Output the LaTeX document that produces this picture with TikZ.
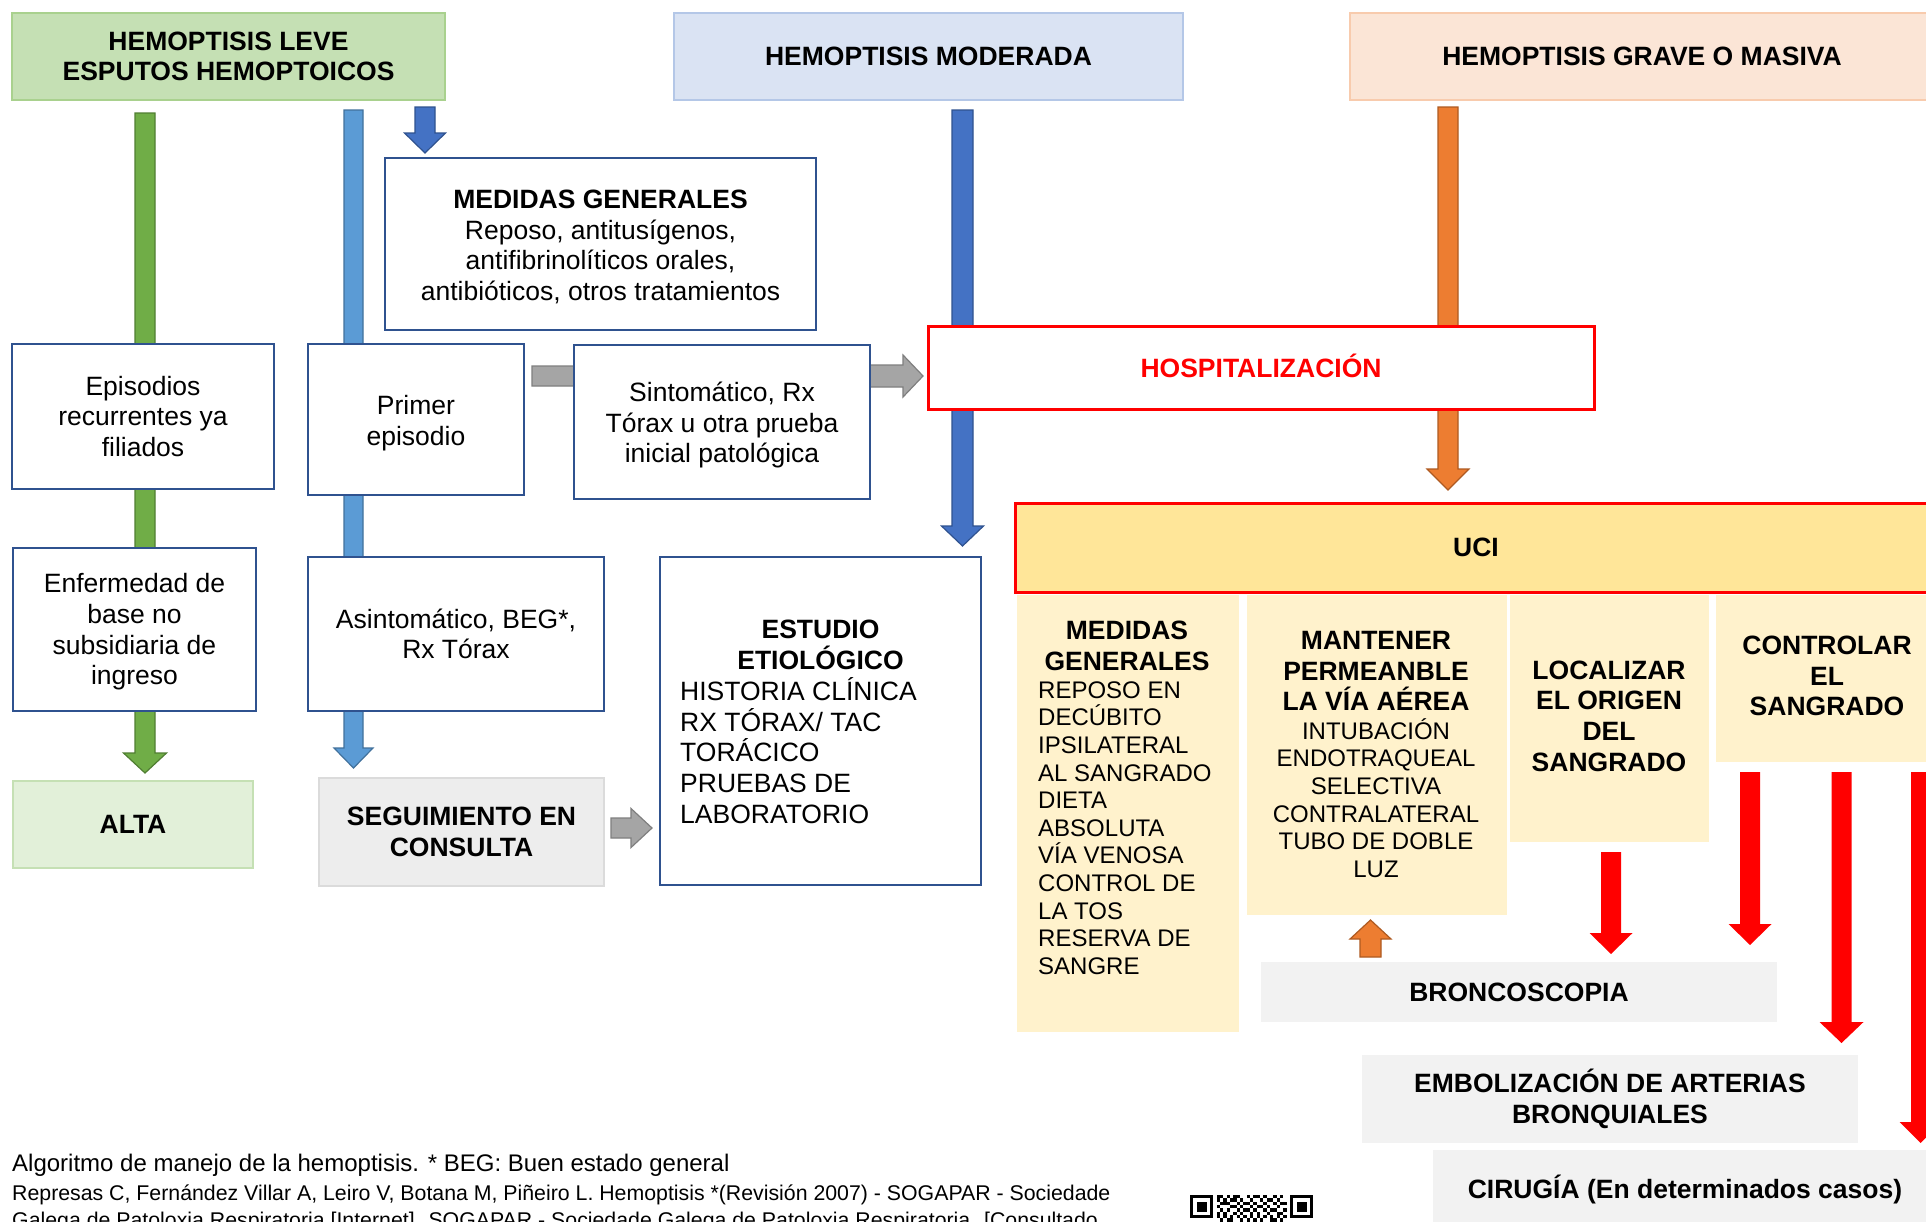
\documentclass[tikz,border=0pt]{standalone}
\usepackage{fontspec}
\setmainfont{Liberation Sans}
\usetikzlibrary{calc}
\definecolor{hgreenf}{HTML}{C5E0B4}\definecolor{hgreend}{HTML}{A9D18E}
\definecolor{hmodf}{HTML}{DAE3F3}\definecolor{hmodd}{HTML}{B4C7E7}
\definecolor{hgravef}{HTML}{FBE5D6}\definecolor{hgraved}{HTML}{F8CBAD}
\definecolor{boxblue}{HTML}{2F528F}
\definecolor{agreenf}{HTML}{70AD47}\definecolor{agreend}{HTML}{507E32}
\definecolor{albluef}{HTML}{5B9BD5}\definecolor{alblued}{HTML}{41719C}
\definecolor{adbluef}{HTML}{4472C4}\definecolor{adblued}{HTML}{2F528F}
\definecolor{aoranf}{HTML}{ED7D31}\definecolor{aorand}{HTML}{AE5A21}
\definecolor{agreyf}{HTML}{A5A5A5}\definecolor{agreyd}{HTML}{7F7F7F}
\definecolor{altaf}{HTML}{E2F0D9}\definecolor{altad}{HTML}{C5E0B4}
\definecolor{seguif}{HTML}{EDEDED}\definecolor{seguid}{HTML}{DBDBDB}
\definecolor{ucif}{HTML}{FFE699}
\definecolor{colf}{HTML}{FFF2CC}
\definecolor{lgrey}{HTML}{F2F2F2}
\definecolor{pured}{HTML}{FF0000}

% block arrows between named coordinates
\newcommand\barrowdown[6]{\path[#6] let \p1=(#1),\p2=(#2) in
 (\x1-#3pt,\y1) -- (\x1+#3pt,\y1) -- (\x1+#3pt,\y2+#5pt) -- (\x1+#4pt,\y2+#5pt) -- (\x1,\y2)
 -- (\x1-#4pt,\y2+#5pt) -- (\x1-#3pt,\y2+#5pt) -- cycle;}
\newcommand\barrowup[6]{\path[#6] let \p1=(#1),\p2=(#2) in
 (\x1-#3pt,\y1) -- (\x1+#3pt,\y1) -- (\x1+#3pt,\y2-#5pt) -- (\x1+#4pt,\y2-#5pt) -- (\x1,\y2)
 -- (\x1-#4pt,\y2-#5pt) -- (\x1-#3pt,\y2-#5pt) -- cycle;}
\newcommand\barrowright[6]{\path[#6] let \p1=(#1),\p2=(#2) in
 (\x1,\y1-#3pt) -- (\x1,\y1+#3pt) -- (\x2-#5pt,\y1+#3pt) -- (\x2-#5pt,\y1+#4pt) -- (\x2,\y1)
 -- (\x2-#5pt,\y1-#4pt) -- (\x2-#5pt,\y1-#3pt) -- cycle;}
% box: name, x1, y1, x2, y2, style, text
\newcommand\bx[7]{\node[#6, minimum width={(#4-#2)*1pt}, minimum height={(#5-#3)*1pt}] (#1) at ({(#2+#4)/2},{(#3+#5)/2}) {#7};}
% box with separately placed text: name, x1, y1, x2, y2, box style, text style, dy, text
\newcommand\bxt[9]{\node[#6, minimum width={(#4-#2)*1pt}, minimum height={(#5-#3)*1pt}] (#1) at ({(#2+#4)/2},{(#3+#5)/2}) {};
 \node[txt, align=center, #7] (#1t) at ($(#1.center)+(0,#8)$) {#9};}

\tikzset{
 fbig/.style={font=\fontsize{26.5}{30.7}\selectfont},
 fbigb/.style={font=\fontsize{26.5}{30.7}\selectfont\bfseries},
 fcol/.style={font=\fontsize{24}{27.6}\selectfont},
 bluebox/.style={draw=boxblue, line width=2.2pt, fill=white, inner sep=0pt, align=center, fbig},
 hdrbox/.style={line width=2.5pt, inner sep=0pt, align=center, fbigb},
 colbox/.style={fill=colf, inner sep=0pt},
 greybox/.style={fill=lgrey, inner sep=0pt, align=center, fbigb},
 txt/.style={inner sep=0pt},
 greenarr/.style={fill=agreenf, draw=agreend, line width=1.2pt},
 lbluearr/.style={fill=albluef, draw=alblued, line width=1.2pt},
 dbluearr/.style={fill=adbluef, draw=adblued, line width=1.2pt},
 oranarr/.style={fill=aoranf, draw=aorand, line width=1.2pt},
 greyarr/.style={fill=agreyf, draw=agreyd, line width=1.2pt},
 redarr/.style={fill=pured},
 qrcell/.style={fill=black}
}

\begin{document}
\begin{tikzpicture}[x=1pt,y=-1pt]
\useasboundingbox (0,0) rectangle (1926,1221);
\clip (0,0) rectangle (1926,1221);
\fill[white] (0,0) rectangle (1926,1221);

% ---------- arrow end points ----------
\coordinate (gA) at (145,113);     \coordinate (gB) at (145,773);
\coordinate (lbA) at (353.5,110);  \coordinate (lbB) at (353.5,768);
\coordinate (sbA) at (425,107);    \coordinate (sbB) at (425,153);
\coordinate (dbA) at (962.5,110);  \coordinate (dbB) at (962.5,546);
\coordinate (orA) at (1448,107);   \coordinate (orB) at (1448,490);
\coordinate (gr1A) at (532,376);   \coordinate (gr1B) at (600,376);
\coordinate (gr2A) at (860,376);   \coordinate (gr2B) at (923,376);
\coordinate (gr3A) at (611,828);   \coordinate (gr3B) at (652,828);
\coordinate (r1A) at (1611,852);   \coordinate (r1B) at (1611,954);
\coordinate (r2A) at (1750,772);   \coordinate (r2B) at (1750,945);
\coordinate (r3A) at (1841.5,772); \coordinate (r3B) at (1841.5,1043);
\coordinate (r4A) at (1920.5,772); \coordinate (r4B) at (1920.5,1143);
\coordinate (oA) at (1370.5,957);  \coordinate (oB) at (1370.5,920);

% ---------- arrows (behind boxes) ----------
\barrowdown{gA}{gB}{10}{21.5}{20}{greenarr}
\barrowdown{lbA}{lbB}{9.5}{19.5}{20}{lbluearr}
\barrowdown{sbA}{sbB}{10}{20.5}{20}{dbluearr}
\barrowdown{dbA}{dbB}{10.5}{21}{20}{dbluearr}
\barrowdown{orA}{orB}{10}{21}{21}{oranarr}
\barrowright{gr1A}{gr1B}{10}{21}{20}{greyarr}
\barrowright{gr2A}{gr2B}{11}{21}{20}{greyarr}
\barrowright{gr3A}{gr3B}{10}{19.5}{21}{greyarr}
\barrowdown{r1A}{r1B}{10}{21.5}{21}{redarr}
\barrowdown{r2A}{r2B}{10}{21.5}{21}{redarr}
\barrowdown{r3A}{r3B}{10}{22}{21}{redarr}
\barrowdown{r4A}{r4B}{9.5}{21}{21}{redarr}
\barrowup{oA}{oB}{10.5}{20.5}{19}{oranarr}

% ---------- headers ----------
\bx{hleve}{12}{13}{445}{100}{hdrbox, fill=hgreenf, draw=hgreend}{HEMOPTISIS LEVE\\ESPUTOS HEMOPTOICOS}
\bx{hmod}{674}{13}{1183}{100}{hdrbox, fill=hmodf, draw=hmodd}{HEMOPTISIS MODERADA}
\bx{hgrave}{1350}{13}{1934}{100}{hdrbox, fill=hgravef, draw=hgraved}{HEMOPTISIS GRAVE O MASIVA}

% ---------- left part ----------
\bxt{medgen}{385}{158}{816}{330}{bluebox}{fbig}{3}{\textbf{MEDIDAS GENERALES}\\Reposo, antitusígenos,\\antifibrinolíticos orales,\\antibióticos, otros tratamientos}
\bx{episod}{12}{344}{274}{489}{bluebox}{Episodios\\recurrentes ya\\filiados}
\bxt{primer}{308}{344}{524}{495}{bluebox}{fbig}{3.5}{Primer\\episodio}
\bxt{sintom}{574}{345}{870}{499}{bluebox}{fbig}{3}{Sintomático, Rx\\Tórax u otra prueba\\inicial patológica}
\bxt{enferm}{13}{548}{256}{711}{bluebox}{fbig}{2.5}{Enfermedad de\\base no\\subsidiaria de\\ingreso}
\bx{asint}{308}{557}{604}{711}{bluebox}{Asintomático, BEG*,\\Rx Tórax}
\bx{estudio}{660}{557}{981}{885}{bluebox}{}
\node[txt, align=center, fbigb] (estudioh) at (820.5,645) {ESTUDIO\\ETIOLÓGICO};
\node[txt, align=left, fbig, anchor=west] (estudiob) at (680,750.5) {HISTORIA CLÍNICA\\RX TÓRAX/ TAC\\TORÁCICO\\PRUEBAS DE\\LABORATORIO};
\bx{alta}{13}{781}{253}{868}{hdrbox, fill=altaf, draw=altad}{ALTA}
\bx{segui}{319}{778}{604}{886}{hdrbox, fill=seguif, draw=seguid}{SEGUIMIENTO EN\\CONSULTA}

% ---------- right part ----------
\bxt{hosp}{928}{326}{1594}{409}{hdrbox, fill=white, draw=pured, line width=3pt}{fbigb, text=pured}{-2}{HOSPITALIZACIÓN}
\bx{uci}{1015}{503}{1937}{592}{hdrbox, fill=ucif, draw=pured, line width=3pt}{UCI}
\bx{col1}{1017}{595}{1239}{1032}{colbox}{}
\bx{col2}{1247}{595}{1507}{915}{colbox}{}
\bx{col3}{1510}{595}{1709}{842}{colbox}{}
\bx{col4}{1716}{595}{1940}{762}{colbox}{}
\node[txt, align=center, fbigb] (col1h) at (1127,646) {MEDIDAS\\GENERALES};
\node[txt, align=left, fcol, anchor=west] (col1b) at (1038,828) {REPOSO EN\\DECÚBITO\\IPSILATERAL\\AL SANGRADO\\DIETA\\ABSOLUTA\\VÍA VENOSA\\CONTROL DE\\LA TOS\\RESERVA DE\\SANGRE};
\node[txt, align=center, fbigb] (col2h) at (1376,671) {MANTENER\\PERMEANBLE\\LA VÍA AÉREA};
\node[txt, align=center, fcol] (col2b) at (1376,798) {INTUBACIÓN\\ENDOTRAQUEAL\\SELECTIVA\\CONTRALATERAL\\TUBO DE DOBLE\\LUZ};
\node[txt, align=center, fbigb] (col3h) at (1609,716) {LOCALIZAR\\EL ORIGEN\\DEL\\SANGRADO};
\node[txt, align=center, fbigb] (col4h) at (1827,676) {CONTROLAR\\EL\\SANGRADO};
\bx{bronco}{1261}{962}{1777}{1022}{greybox}{BRONCOSCOPIA}
\bx{embol}{1362}{1055}{1858}{1143}{greybox}{EMBOLIZACIÓN DE ARTERIAS\\BRONQUIALES}
\bx{cirug}{1433}{1150}{1937}{1228}{greybox}{CIRUGÍA (En determinados casos)}

% ---------- footer ----------
\node[txt, anchor=base west, font=\fontsize{24}{28}\selectfont] (cap1) at (12,1171.5) {Algoritmo de manejo de la hemoptisis. * BEG: Buen estado general};
\node[txt, anchor=base west, font=\fontsize{21.3}{25}\selectfont] (cap2) at (12,1200) {Represas C, Fernández Villar A, Leiro V, Botana M, Piñeiro L. Hemoptisis *(Revisión 2007) - SOGAPAR - Sociedade};
\node[txt, anchor=base west, font=\fontsize{21.3}{25}\selectfont] (cap3) at (12,1227) {Galega de Patoloxia Respiratoria [Internet]. SOGAPAR - Sociedade Galega de Patoloxia Respiratoria. [Consultado};

% ---------- QR code (top part) ----------
\begin{scope}[shift={(1190,1195)}, x=3.33pt, y=-3.33pt]
 \foreach \qx in {0,30} {
  \fill[black] (\qx,0) rectangle ++(7,7);
  \fill[white] (\qx+1,1) rectangle ++(5,5);
  \fill[black] (\qx+2,2) rectangle ++(3,3);
 }
 \foreach \c/\r in {8/0,9/0,11/0,13/0,14/0,17/0,19/0,20/0,22/0,25/0,27/0,
   8/1,10/1,12/1,13/1,15/1,18/1,21/1,23/1,24/1,26/1,
   9/2,10/2,11/2,14/2,16/2,17/2,19/2,22/2,25/2,27/2,28/2,
   8/3,12/3,13/3,15/3,18/3,20/3,21/3,23/3,26/3,
   9/4,11/4,14/4,16/4,17/4,19/4,22/4,24/4,25/4,28/4,
   8/5,10/5,13/5,15/5,18/5,20/5,23/5,26/5,27/5,
   8/6,10/6,12/6,14/6,16/6,18/6,20/6,22/6,24/6,26/6,28/6,
   9/7,11/7,12/7,15/7,17/7,19/7,21/7,24/7,25/7,27/7,
   0/8,2/8,5/8,6/8,31/8,33/8,35/8}
  { \fill[qrcell] (\c,\r) rectangle ++(1,1); }
\end{scope}
\end{tikzpicture}
\end{document}
